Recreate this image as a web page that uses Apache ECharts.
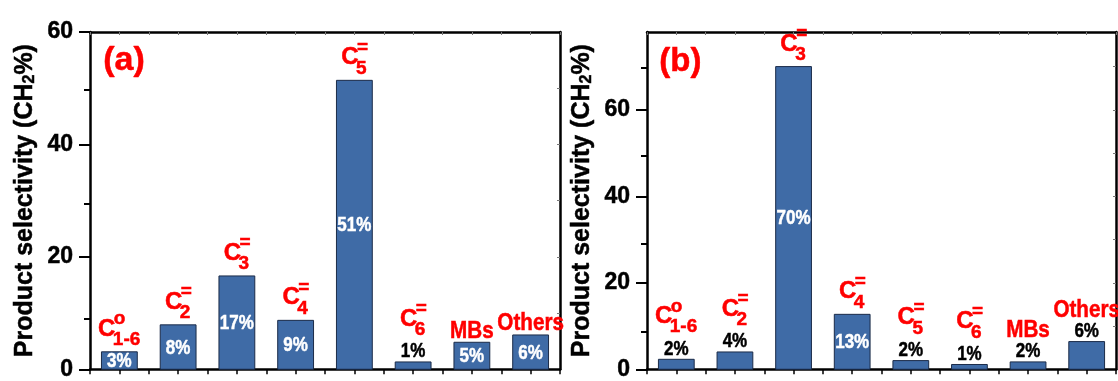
<!DOCTYPE html>
<html>
<head>
<meta charset="utf-8">
<script src="https://cdn.jsdelivr.net/npm/echarts@6/dist/echarts.min.js"></script>
<style>
  html, body { margin: 0; padding: 0; background: #fff; }
  #chart { width: 1118px; height: 381px; }
</style>
</head>
<body>
<div id="chart"></div>
<script>
// Product groups: base symbol with its superscript and subscript parts
const groupBase = ['C', 'C', 'C', 'C', 'C', 'C', 'MBs', 'Others'];
const groupSup  = ['o', '=', '=', '=', '=', '=', '', ''];
const groupSub  = ['1-6', '2', '3', '4', '5', '6', '', ''];

// Product selectivity (CH2 %) for the two runs
const selectivityA = [3.1, 7.9, 16.6, 8.7, 51.4, 1.3, 4.8, 6.1];
const selectivityB = [2.3, 4.0, 70.0, 12.7, 2.0, 1.1, 1.7, 6.4];

// Y-axis ticks
const yMaxA = 60;
const yMaxB = 78;
const yMajorTicks = [0, 20, 40, 60];
const yMinorTicksA = [10, 30, 50];
const yMinorTicksB = [10, 30, 50, 70];
const yFrameTicksA = [10, 20, 30, 40, 50];
const yFrameTicksB = [10, 20, 30, 40, 50, 60, 70];

const FAMILY = '"Liberation Sans", Arial, Helvetica, sans-serif';
const RED = '#ff0000';
const BAR_FILL = '#3f6ba6';
const BAR_EDGE = '#1b2b48';
const C_SIZE = 24;
const WORD_SIZE = 24, WORD_SX = 0.86;
const SCRIPT_SIZE = 19;
const PCT_SIZE = 20, PCT_SX = 0.85;
const HEAVY = 0.5;

const measureCtx = document.createElement('canvas').getContext('2d');
function textWidth(s, size) {
  measureCtx.font = 'bold ' + size + 'px ' + FAMILY;
  return measureCtx.measureText(s).width;
}

function textEl(text, x, y, size, color, align, vAlign, sx) {
  return {
    type: 'text', x: x, y: y, scaleX: sx || 1,
    style: {
      text: text, fill: color, stroke: color, lineWidth: HEAVY,
      font: 'bold ' + size + 'px ' + FAMILY,
      align: align, verticalAlign: vAlign
    }
  };
}

// Red product name (C with super/subscripts, or a plain word) whose glyphs end at `bottom`
function groupLabel(i, cx, bottom) {
  const base = groupBase[i], sup = groupSup[i], sub = groupSub[i];
  if (!sup && !sub) {
    return [textEl(base, cx, bottom + 2.5 - 0.358 * WORD_SIZE, WORD_SIZE, RED, 'center', 'middle', WORD_SX)];
  }
  const wBase = textWidth(base, C_SIZE);
  const wScript = Math.max(textWidth(sub, SCRIPT_SIZE), textWidth(sup, SCRIPT_SIZE));
  const total = wBase + wScript - 2;
  const left = cx - total / 2;
  const baseLine = bottom - 9;
  const capTop = baseLine - 0.716 * C_SIZE;
  return [
    textEl(base, left, baseLine - 0.358 * C_SIZE, C_SIZE, RED, 'left', 'middle'),
    textEl(sub, left + wBase - 2.5, bottom - 0.358 * SCRIPT_SIZE, SCRIPT_SIZE, RED, 'left', 'middle'),
    textEl(sup, left + wBase - 1.5, capTop - 1.5, SCRIPT_SIZE, RED, 'left', 'middle')
  ];
}

// Bar + percentage + product name; percentages go inside bars at or above `insideFrom`
function barRenderer(insideFrom) {
  return function (params, api) {
    const i = params.dataIndex;
    const x = api.value(0), v = api.value(1);
    const top = api.coord([x, v]);
    const base = api.coord([x, 0]);
    const bw = api.size([1, 0])[0] * 0.61;
    const cx = top[0];
    const kids = [{
      type: 'rect',
      shape: { x: cx - bw / 2, y: top[1], width: bw, height: base[1] - top[1] },
      style: { fill: BAR_FILL, stroke: BAR_EDGE, lineWidth: 1 }
    }];
    const pct = Math.round(v) + '%';
    let nameBottom;
    if (v >= insideFrom) {
      kids.push(textEl(pct, cx, (top[1] + base[1]) / 2 + 1, PCT_SIZE, '#ffffff', 'center', 'middle', PCT_SX));
      nameBottom = top[1] - 5;
    } else {
      const capH = 0.716 * PCT_SIZE;
      kids.push(textEl(pct, cx, top[1] - 3 - capH / 2, PCT_SIZE, '#000000', 'center', 'middle', PCT_SX));
      nameBottom = top[1] - 3 - capH - 8;
    }
    return { type: 'group', children: kids.concat(groupLabel(i, cx, nameBottom)) };
  };
}

const axisLineStyle = { show: true, onZero: false, lineStyle: { color: '#000', width: 2.5 } };
const tickFont = {
  fontSize: 23, fontWeight: 'bold', fontFamily: FAMILY, color: '#000',
  textBorderColor: '#000', textBorderWidth: HEAVY
};
const titleStyle = {
  fontSize: 25, fontWeight: 'bold', fontFamily: FAMILY, color: '#000',
  textBorderColor: '#000', textBorderWidth: HEAVY,
  rich: {
    s: {
      fontSize: 16, fontWeight: 'bold', fontFamily: FAMILY, color: '#000',
      textBorderColor: '#000', textBorderWidth: HEAVY, verticalAlign: 'bottom'
    }
  }
};

function bottomX(grid) {
  return {
    type: 'value', gridIndex: grid, min: -0.5, max: 7.5, interval: 0.5,
    axisLine: axisLineStyle,
    axisTick: { show: true, inside: false, length: 5, lineStyle: { color: '#000', width: 1.5 } },
    axisLabel: { show: false }, splitLine: { show: false }
  };
}
function topX(grid) {
  return {
    type: 'value', gridIndex: grid, position: 'top', min: -0.5, max: 7.5, interval: 0.5,
    axisLine: axisLineStyle,
    axisTick: { show: true, inside: true, length: 3, lineStyle: { color: '#777', width: 1 } },
    axisLabel: { show: false }, splitLine: { show: false }
  };
}
function rightY(grid, max, ticks) {
  return {
    type: 'value', gridIndex: grid, position: 'right', min: 0, max: max,
    axisLine: axisLineStyle,
    axisTick: { show: true, inside: true, length: 3, customValues: ticks, lineStyle: { color: '#777', width: 1 } },
    axisLabel: { show: false }, splitLine: { show: false }
  };
}
function leftY(grid, max) {
  return {
    type: 'value', gridIndex: grid, position: 'left', min: 0, max: max, interval: 20,
    axisLine: axisLineStyle,
    axisTick: { show: true, inside: false, length: 11, customValues: yMajorTicks, lineStyle: { color: '#000', width: 2 } },
    axisLabel: Object.assign({ margin: 17, customValues: yMajorTicks }, tickFont),
    splitLine: { show: false },
    name: 'Product selectivity (CH{s|2}%)',
    nameLocation: 'middle', nameGap: 52, nameMoveOverlap: false,
    nameTextStyle: titleStyle
  };
}
function minorY(grid, max, ticks) {
  return {
    type: 'value', gridIndex: grid, position: 'left', min: 0, max: max,
    axisLine: { show: false, onZero: false },
    axisTick: { show: true, inside: false, length: 6, customValues: ticks, lineStyle: { color: '#000', width: 2 } },
    axisLabel: { show: false }, splitLine: { show: false }
  };
}

const rectA = { left: 90, top: 32, width: 470, height: 344 };
const rectB = { left: 647, top: 32, width: 469, height: 344 };

const chart = echarts.init(document.getElementById('chart'), null, { renderer: 'canvas' });
chart.setOption({
  animation: false,
  backgroundColor: '#ffffff',
  grid: [
    Object.assign({}, rectA),
    Object.assign({}, rectB),
    Object.assign({}, rectA),
    Object.assign({}, rectB)
  ],
  xAxis: [
    bottomX(0), topX(0), bottomX(1), topX(1),
    { type: 'value', gridIndex: 2, min: -0.5, max: 7.5, show: false },
    { type: 'value', gridIndex: 3, min: -0.5, max: 7.5, show: false }
  ],
  yAxis: [
    leftY(0, yMaxA), rightY(0, yMaxA, yFrameTicksA),
    leftY(1, yMaxB), rightY(1, yMaxB, yFrameTicksB),
    minorY(2, yMaxA, yMinorTicksA),
    minorY(3, yMaxB, yMinorTicksB)
  ],
  graphic: [
    { type: 'text', left: 103, top: 43, style: { text: '(a)', fill: RED, stroke: RED, lineWidth: HEAVY, font: 'bold 34px ' + FAMILY } },
    { type: 'text', left: 659, top: 45, style: { text: '(b)', fill: RED, stroke: RED, lineWidth: HEAVY, font: 'bold 33px ' + FAMILY } }
  ],
  series: [
    {
      type: 'custom', xAxisIndex: 0, yAxisIndex: 0, clip: false,
      renderItem: barRenderer(2),
      encode: { x: 0, y: 1 },
      data: selectivityA.map(function (v, i) { return [i, v]; })
    },
    {
      type: 'custom', xAxisIndex: 2, yAxisIndex: 2, clip: false,
      renderItem: barRenderer(10),
      encode: { x: 0, y: 1 },
      data: selectivityB.map(function (v, i) { return [i, v]; })
    }
  ]
});
</script>
</body>
</html>
